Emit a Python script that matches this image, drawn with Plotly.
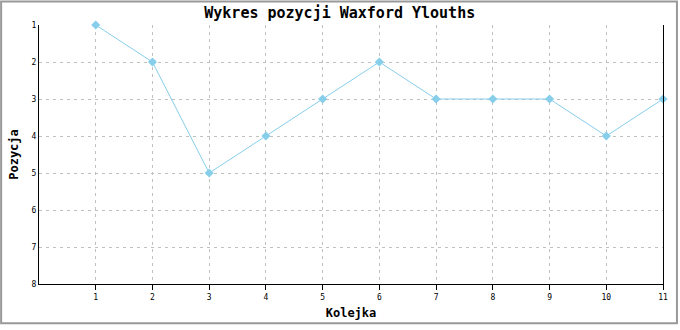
import plotly.graph_objects as go

rounds = [1, 2, 3, 4, 5, 6, 7, 8, 9, 10, 11]
positions = [1, 2, 5, 4, 3, 2, 3, 3, 3, 4, 3]
y_ticks = [1, 2, 3, 4, 5, 6, 7, 8]

W, H = 680, 330
L, R, T, B = 39, 15, 25, 41
pw, ph = W - L - R, H - T - B
font = "DejaVu Sans Mono"

fig = go.Figure()
fig.add_trace(go.Scatter(
    x=rounds, y=positions, mode="lines+markers",
    line=dict(color="#87CEEB", width=1),
    marker=dict(symbol="diamond", size=7, color="#87CEEB"),
    cliponaxis=False,
    showlegend=False,
))

fig.update_layout(
    width=W, height=H,
    margin=dict(l=L, r=R, t=T, b=B, pad=0),
    paper_bgcolor="white", plot_bgcolor="white",
    title=dict(text="<b>Wykres pozycji Waxford Ylouths</b>", x=(L + pw / 2) / W - 0.018, xanchor="center",
               y=1 - 13 / H, yanchor="middle",
               font=dict(family=font, size=15, color="black")),
    font=dict(family=font, color="black"),
    xaxis=dict(
        range=[0, 11], tickvals=rounds, ticktext=[str(r) for r in rounds],
        showline=True, linecolor="black", linewidth=1,
        ticks="outside", ticklen=5, tickcolor="black",
        showgrid=True, gridcolor="#c0c0c0", griddash="3px,4px", gridwidth=1,
        zeroline=False, tickfont=dict(size=8, family=font),
        title=dict(text="<b>Kolejka</b>", font=dict(size=12, family=font), standoff=8),
    ),
    yaxis=dict(
        range=[8, 1], tickvals=y_ticks, ticktext=[str(v) for v in y_ticks],
        showline=True, linecolor="black", linewidth=1, mirror=True,
        ticks="", showgrid=True, gridcolor="#c0c0c0", griddash="3px,4px", gridwidth=1,
        zeroline=False, tickfont=dict(size=8, family=font),
        title=dict(text="<b>Pozycja</b>", font=dict(size=12, family=font), standoff=10),
    ),
    shapes=[dict(
        type="rect", xref="paper", yref="paper",
        x0=(1 - L) / pw, x1=(W - 1 - L) / pw,
        y0=-(H - 1 - T - ph) / ph, y1=(T - 1) / ph + 1,
        line=dict(color="#999999", width=2), layer="above",
    )],
)

fig.write_html("out.html")
